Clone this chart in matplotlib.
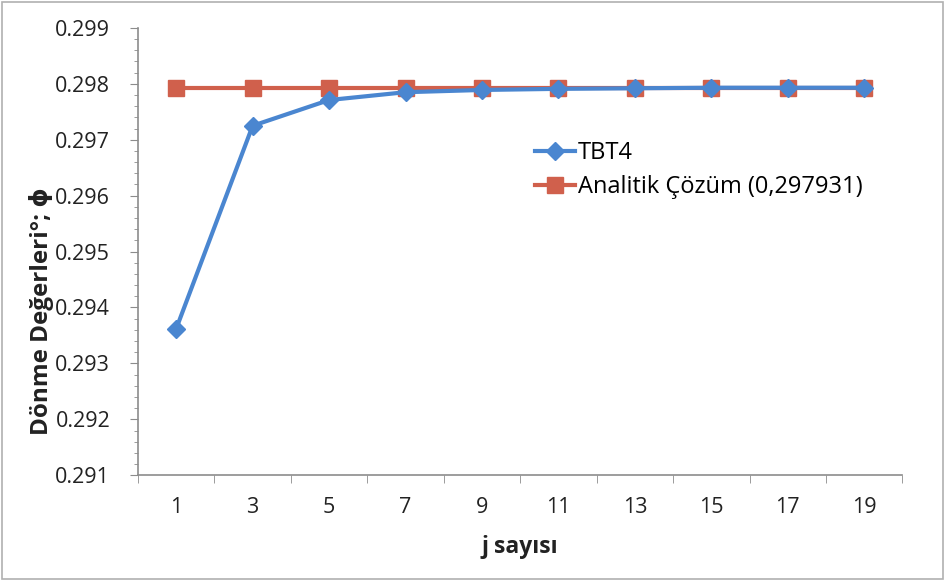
import matplotlib.pyplot as plt
from matplotlib.patches import Rectangle
from matplotlib.ticker import MultipleLocator

plt.rcParams["font.family"] = ["Open Sans", "DejaVu Sans"]

j_values = [1, 3, 5, 7, 9, 11, 13, 15, 17, 19]
tbt4 = [0.29362, 0.29725, 0.29771, 0.29785, 0.29789, 0.29791, 0.29792, 0.29793, 0.29793, 0.29793]
analytic = [0.297931] * len(j_values)

BLUE = "#4A86D0"
RED = "#D0604C"
GREY = "#8c8c8c"

fig = plt.figure(figsize=(9.45, 5.81), dpi=100)
ax = fig.add_axes([0.146, 0.182, 0.809, 0.77])

pos = list(range(len(j_values)))
ax.plot(pos, tbt4, color=BLUE, linewidth=3, marker="D", markersize=9,
        markerfacecolor=BLUE, markeredgecolor=BLUE, label="TBT4", zorder=3)
ax.plot(pos, analytic, color=RED, linewidth=3, marker="s", markersize=12,
        markerfacecolor=RED, markeredgecolor=RED, label="Analitik Çözüm (0,297931)", zorder=2)

ax.set_xlim(-0.5, len(j_values) - 0.5)
ax.set_ylim(0.291, 0.299)
ax.yaxis.set_major_locator(MultipleLocator(0.001))
ax.yaxis.set_minor_locator(MultipleLocator(0.0002))
ax.set_yticks(ax.get_yticks())
ax.set_yticklabels([f"{v:.3f}" for v in ax.get_yticks()])
ax.set_ylim(0.291, 0.299)

# category axis: labels centred, tick marks between categories
ax.set_xticks(pos)
ax.set_xticklabels([str(j) for j in j_values])
ax.set_xticks([p - 0.5 for p in pos] + [pos[-1] + 0.5], minor=True)
ax.tick_params(axis="x", which="major", length=0, pad=16, labelsize=15.5, labelcolor="#222")
ax.tick_params(axis="x", which="minor", length=6, color=GREY, direction="out")
ax.tick_params(axis="y", which="major", length=6, color=GREY, labelsize=15.5, labelcolor="#222", pad=14)
ax.tick_params(axis="y", which="minor", length=3, color=GREY)

for spine in ("top", "right"):
    ax.spines[spine].set_visible(False)
for spine in ("left", "bottom"):
    ax.spines[spine].set_color(GREY)
    ax.spines[spine].set_linewidth(1.2)

ax.set_xlabel("j sayısı", fontsize=16.5, fontweight="bold", labelpad=12, color="#222")
ax.set_ylabel("Dönme Değerleri°; ϕ", fontsize=17.5, fontweight="bold", color="#222")
ax.yaxis.set_label_coords(-0.11, 0.367)

ax.legend(loc="upper left", bbox_to_anchor=(0.492, 0.794), frameon=False, fontsize=17,
          handlelength=1.7, handletextpad=0.1, labelspacing=0.42)

fig.patches.append(Rectangle((0.002, 0.003), 0.996, 0.994, transform=fig.transFigure,
                             fill=False, edgecolor="#b0b0b0", linewidth=1.2))

fig.savefig("out.png", dpi=100)
